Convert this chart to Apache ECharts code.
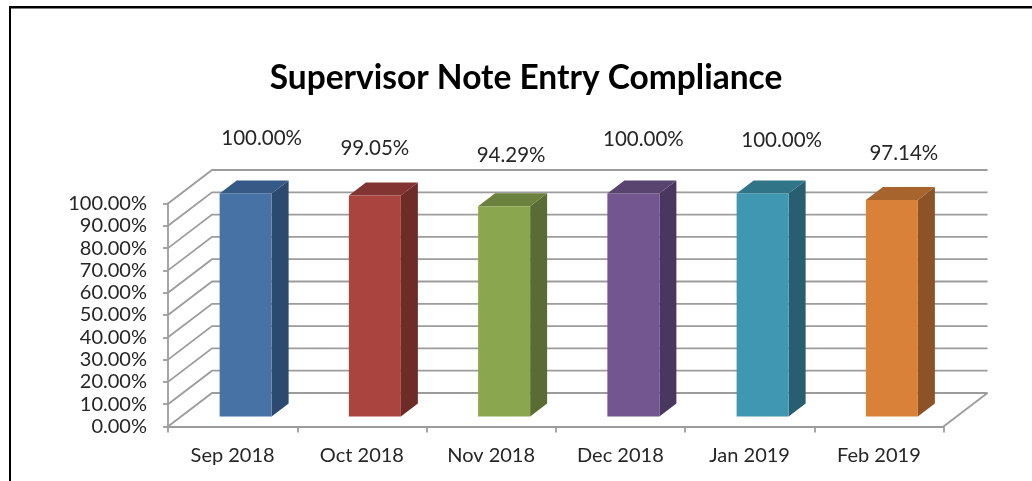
<!DOCTYPE html>
<html>
<head>
<meta charset="utf-8">
<style>
	html, body { margin: 0; padding: 0; background: #fff; }
	#chart { width: 1032px; height: 481px; }
</style>
<script src="https://cdn.jsdelivr.net/npm/echarts@6/dist/echarts.min.js"></script>
</head>
<body>
<div id="chart"></div>
<script>
	var categories = ['Sep 2018', 'Oct 2018', 'Nov 2018', 'Dec 2018', 'Jan 2019', 'Feb 2019'];
	var compliance = [100, 99.05, 94.29, 100, 100, 97.14];
	var yTicks = [0, 10, 20, 30, 40, 50, 60, 70, 80, 90, 100];

	// front / side / top of each bar
	var faceColors = [
		['#4672A6', '#2C4A70', '#365A85'],
		['#A9443F', '#6E2C29', '#823432'],
		['#8AA64F', '#5A6C33', '#6B813D'],
		['#73568F', '#4A3760', '#59436F'],
		['#4097B1', '#275F70', '#307488'],
		['#DA8139', '#8B5326', '#A8642D']
	];
	// the data labels were dragged by hand in the original
	var labelNudgeX = [29, 13, 20, 23, 32, 25];
	var labelNudgeY = [-65, -57, -61, -64, -63, -56];

	var font = 'Lato';
	var textColor = '#262626';
	var gridColor = '#9c9c9c';
	var depthX = 44, depthY = 33.5;   // floor depth
	var barOffX = 13, barOffY = 10;   // bar front from axis plane
	var barDepthX = 17, barDepthY = 13;
	var barWidth = 52;

	function renderWalls(params, api) {
		var cs = params.coordSys;
		var v = api.value(1);
		var y = api.coord([0, v])[1];
		var x0 = cs.x, x1 = cs.x + cs.width;
		var children = [{
			type: 'polyline',
			shape: { points: [[x0, y], [x0 + depthX, y - depthY], [x1 + depthX, y - depthY]] },
			style: { fill: null, stroke: gridColor, lineWidth: 1.8 }
		}];
		if (v === 0) {
			children.push({
				type: 'line',
				shape: { x1: x1, y1: y, x2: x1 + depthX, y2: y - depthY },
				style: { stroke: gridColor, lineWidth: 1.8 }
			});
		}
		return { type: 'group', children: children };
	}

	function renderBar(params, api) {
		var i = api.value(0);
		var val = api.value(1);
		var top = api.coord([i, val]);
		var base = api.coord([i, 0]);
		var l = top[0] + barOffX - barWidth / 2;
		var r = l + barWidth;
		var t = top[1] - barOffY;
		var b = base[1] - barOffY;
		var c = faceColors[i];
		return {
			type: 'group',
			children: [
				{
					type: 'polygon',
					shape: { points: [[r, t], [r + barDepthX, t - barDepthY], [r + barDepthX, b - barDepthY], [r, b]] },
					style: { fill: c[1] }
				},
				{
					type: 'polygon',
					shape: { points: [[l, t], [l + barDepthX, t - barDepthY], [r + barDepthX, t - barDepthY], [r, t]] },
					style: { fill: c[2] }
				},
				{
					type: 'rect',
					shape: { x: l, y: t, width: barWidth, height: b - t },
					style: { fill: c[0] }
				},
				{
					type: 'text',
					x: top[0] + labelNudgeX[i],
					y: top[1] + labelNudgeY[i],
					style: {
						text: val.toFixed(2) + '%',
						font: '20.5px ' + font,
						fill: textColor,
						align: 'center',
						verticalAlign: 'middle'
					}
				}
			]
		};
	}

	var chart = echarts.init(document.getElementById('chart'));
	chart.setOption({
		animation: false,
		backgroundColor: '#fff',
		title: {
			text: 'Supervisor Note Entry Compliance',
			left: 521,
			top: 56,
			textAlign: 'center',
			textStyle: { fontFamily: font, fontSize: 33.5, fontWeight: 'bold', color: '#000' }
		},
		grid: { left: 168, right: 88.5, top: 203.5, bottom: 54.5 },
		xAxis: {
			type: 'category',
			data: categories,
			axisLine: { lineStyle: { color: gridColor, width: 1.8 } },
			axisTick: { show: true, alignWithLabel: false, length: 6, lineStyle: { color: gridColor, width: 1.8 } },
			axisLabel: { fontFamily: font, fontSize: 20, color: textColor, margin: 19 }
		},
		yAxis: {
			type: 'value',
			min: 0,
			max: 100,
			interval: 10,
			splitLine: { show: false },
			axisLine: { show: true, lineStyle: { color: gridColor, width: 1.8 } },
			axisTick: { show: true, length: 5, lineStyle: { color: gridColor, width: 1.8 } },
			axisLabel: {
				fontFamily: font, fontSize: 20, color: textColor, margin: 21,
				padding: [3, 0, 0, 0],
				formatter: function (v) { return v.toFixed(2) + '%'; }
			}
		},
		series: [
			{
				type: 'custom',
				z: 1,
				silent: true,
				renderItem: renderWalls,
				encode: { x: 0, y: 1 },
				data: yTicks.map(function (v) { return [0, v]; })
			},
			{
				type: 'custom',
				z: 3,
				renderItem: renderBar,
				encode: { x: 0, y: 1 },
				data: compliance.map(function (v, i) { return [i, v]; })
			}
		],
		graphic: [
			{ type: 'rect', silent: true, shape: { x: 9, y: 6, width: 1023, height: 2.5 }, style: { fill: '#000' } },
			{ type: 'rect', silent: true, shape: { x: 9, y: 6, width: 2, height: 475 }, style: { fill: '#000' } }
		]
	});
</script>
</body>
</html>
